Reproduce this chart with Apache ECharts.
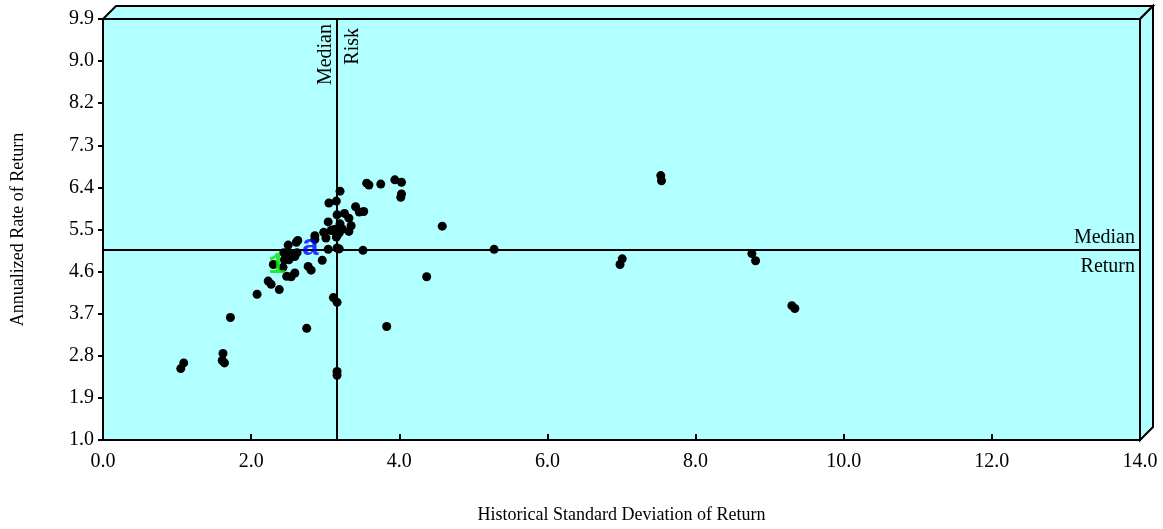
<!DOCTYPE html>
<html>
<head>
<meta charset="utf-8">
<script src="https://cdn.jsdelivr.net/npm/echarts@6/dist/echarts.min.js"></script>
<style>
html,body{margin:0;padding:0;background:#fff;}
#chart{width:1163px;height:529px;}
</style>
</head>
<body>
<div id="chart"></div>
<script>
// risk (x) / return (y) for every fund dot
const riskValues = [
  1.05, 1.09, 1.62, 1.61, 1.64, 1.72, 2.08, 2.23, 2.27, 2.38,
  2.75, 2.30, 2.43, 2.48, 2.54, 2.59, 2.45, 2.51, 2.59, 2.44,
  2.51, 2.57, 2.62, 2.50, 2.63, 2.61, 2.77, 2.81, 2.96, 3.11,
  3.16, 3.83, 3.16, 3.16, 4.37, 2.86, 2.86, 3.01, 3.15, 3.16,
  2.98, 3.08, 3.12, 3.19, 3.23, 3.32, 3.20, 3.35, 3.04, 3.16,
  3.26, 3.32, 3.41, 3.52, 3.46, 3.05, 3.15, 3.20, 3.56, 3.59,
  3.75, 3.94, 4.03, 4.03, 4.02, 4.58, 3.04, 3.16, 3.19, 3.51,
  5.28, 7.01, 6.98, 7.53, 7.54, 8.76, 8.81, 9.30, 9.34, 3.19
];
const returnValues = [
  2.51, 2.63, 2.83, 2.68, 2.63, 3.59, 4.08, 4.36, 4.29, 4.18,
  3.36, 4.71, 4.65, 4.46, 4.45, 4.53, 4.81, 4.81, 4.88, 4.96,
  4.91, 4.93, 4.96, 5.12, 5.22, 5.18, 4.67, 4.59, 4.80, 4.01,
  3.91, 3.40, 2.45, 2.37, 4.45, 5.32, 5.24, 5.27, 5.29, 5.32,
  5.39, 5.43, 5.45, 5.50, 5.46, 5.41, 5.57, 5.53, 5.61, 5.76,
  5.79, 5.69, 5.93, 5.83, 5.82, 6.01, 6.05, 6.26, 6.43, 6.39,
  6.41, 6.50, 6.45, 6.20, 6.13, 5.52, 5.03, 5.06, 5.04, 5.01,
  5.03, 4.83, 4.71, 6.59, 6.48, 4.94, 4.79, 3.84, 3.78, 5.38
];

// highlighted funds drawn as letters
const markNames = ["1", "a"];
const markRisk = [2.35, 2.80];
const markReturn = [4.69, 5.08];
const markColors = ["#00e600", "#0000ff"];

const medianRisk = 3.16;
const medianReturn = 5.03;

const xMin = 0, xMax = 14, xStep = 2;
const yMin = 1.0, yMax = 9.9, yStep = 0.89;
const yTickLabels = ["1.0", "1.9", "2.8", "3.7", "4.6", "5.5", "6.4", "7.3", "8.2", "9.0", "9.9"];

const FONT = "Liberation Serif";
const FACE = "#b2ffff";
const DEPTH = 13;

const chart = echarts.init(document.getElementById("chart"), null, { renderer: "canvas" });

const dots = riskValues.map((r, i) => [r, returnValues[i]]);
const marks = markNames.map((n, i) => ({
  name: n,
  value: [markRisk[i], markReturn[i]],
  label: { color: markColors[i] }
}));

chart.setOption({
  animation: false,
  backgroundColor: "#fff",
  grid: {
    left: 103, right: 23, top: 19, bottom: 88,
    show: true, backgroundColor: FACE, borderColor: "#000", borderWidth: 2
  },
  xAxis: {
    type: "value",
    min: xMin, max: xMax, interval: xStep,
    name: "Historical Standard Deviation of Return",
    nameLocation: "middle",
    nameGap: 66,
    nameTextStyle: { fontFamily: FONT, fontSize: 18, color: "#000" },
    axisLine: { show: true, lineStyle: { color: "#000", width: 2 } },
    axisTick: { show: true, inside: true, length: 6, lineStyle: { color: "#000", width: 2 } },
    axisLabel: { fontFamily: FONT, fontSize: 20, color: "#000", margin: 12, formatter: (v) => v.toFixed(1) },
    splitLine: { show: false }
  },
  yAxis: {
    type: "value",
    min: yMin, max: yMax, interval: yStep,
    name: "Annualized Rate of Return",
    nameLocation: "middle",
    nameGap: 76,
    nameTextStyle: { fontFamily: FONT, fontSize: 18, color: "#000" },
    axisLine: { show: true, lineStyle: { color: "#000", width: 2 } },
    axisTick: { show: true, inside: false, length: 5, lineStyle: { color: "#000", width: 2 } },
    axisLabel: {
      fontFamily: FONT, fontSize: 20, color: "#000", margin: 9,
      formatter: (v) => yTickLabels[Math.round((v - yMin) / yStep)] || ""
    },
    splitLine: { show: false }
  },
  series: [
    {
      type: "scatter",
      data: dots,
      symbol: "circle",
      symbolSize: 9,
      itemStyle: { color: "#000", opacity: 1 },
      z: 3,
      markLine: {
        silent: true,
        symbol: "none",
        label: { show: false },
        lineStyle: { color: "#000", width: 2, type: "solid" },
        data: [{ xAxis: medianRisk }, { yAxis: medianReturn }],
        z: 2
      }
    },
    {
      type: "scatter",
      data: marks,
      symbol: "circle",
      symbolSize: 1,
      itemStyle: { color: "transparent" },
      z: 5,
      label: {
        show: true,
        position: "inside",
        formatter: (p) => p.name,
        fontFamily: "Liberation Mono",
        fontWeight: "bold",
        fontSize: 30
      }
    }
  ]
});

function drawFrame(){
  const toPx = (x, y) => chart.convertToPixel({ gridIndex: 0 }, [x, y]);
  const [x0, yBot] = toPx(xMin, yMin);
  const [x1, yTop] = toPx(xMax, yMax);
  const mx = toPx(medianRisk, yMax)[0];
  const my = toPx(xMax, medianReturn)[1];
  const faceStyle = { fill: FACE, stroke: "#000", lineWidth: 2, lineJoin: "miter" };
  const txt = { fontFamily: FONT, fontSize: 20, fill: "#000" };

  chart.setOption({
    graphic: [
      {
        type: "polygon",
        shape: { points: [[x0, yTop], [x0 + DEPTH, yTop - DEPTH], [x1 + DEPTH, yTop - DEPTH], [x1, yTop]] },
        style: faceStyle, z: 1
      },
      {
        type: "polygon",
        shape: { points: [[x1, yTop], [x1 + DEPTH, yTop - DEPTH], [x1 + DEPTH, yBot - DEPTH], [x1, yBot]] },
        style: faceStyle, z: 1
      },
      {
        type: "text", x: mx - 11, y: yTop + 5, rotation: Math.PI / 2,
        style: Object.assign({ text: "Median", align: "right", verticalAlign: "middle" }, txt), z: 10
      },
      {
        type: "text", x: mx + 16, y: yTop + 9, rotation: Math.PI / 2,
        style: Object.assign({ text: "Risk", align: "right", verticalAlign: "middle" }, txt), z: 10
      },
      {
        type: "text", x: x1 - 5, y: my - 12,
        style: Object.assign({ text: "Median", align: "right", verticalAlign: "middle" }, txt), z: 10
      },
      {
        type: "text", x: x1 - 5, y: my + 17,
        style: Object.assign({ text: "Return", align: "right", verticalAlign: "middle" }, txt), z: 10
      }
    ]
  });
}

drawFrame();
</script>
</body>
</html>
